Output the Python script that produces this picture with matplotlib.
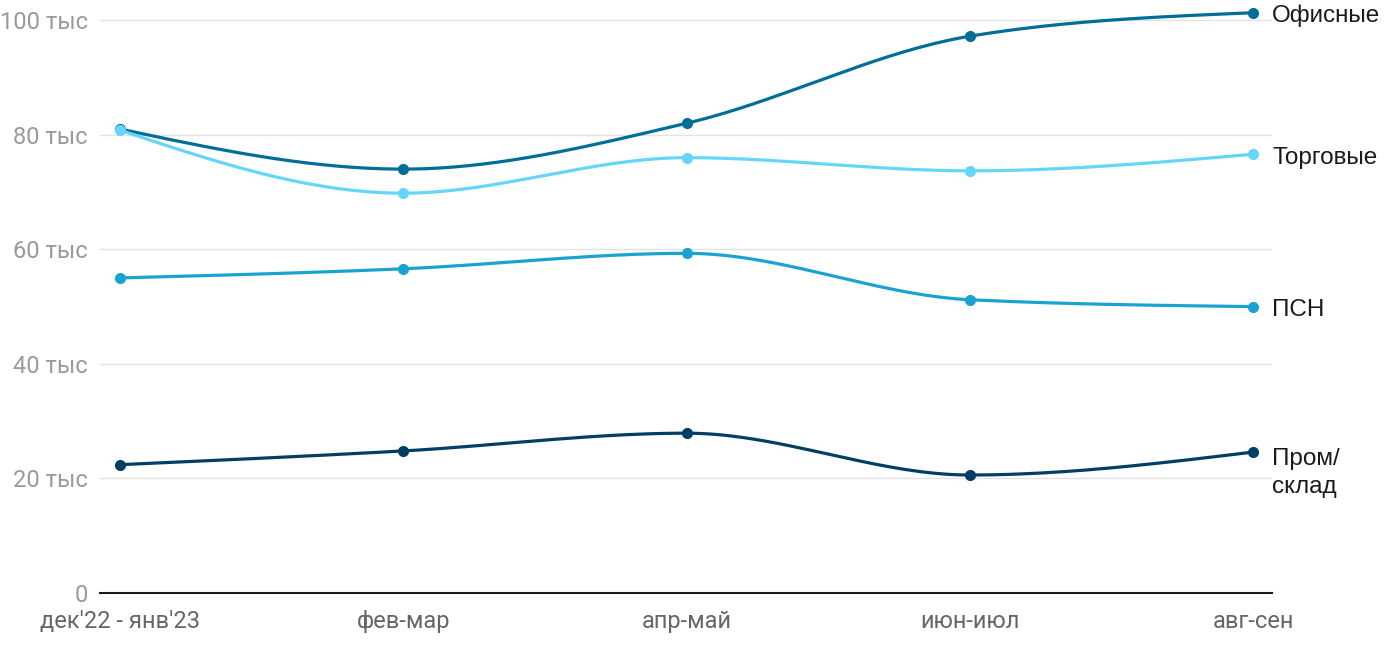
import numpy as np
import matplotlib
matplotlib.use("Agg")
import matplotlib.pyplot as plt

# данные
periods = ["дек'22 - янв'23", "фев-мар", "апр-май", "июн-июл", "авг-сен"]
office = [81.0, 74.0, 82.0, 97.2, 101.3]
retail = [80.8, 69.8, 76.0, 73.7, 76.6]
psn = [55.0, 56.6, 59.3, 51.2, 50.0]
industrial = [22.4, 24.8, 27.9, 20.6, 24.6]

series_names = ["Офисные", "Торговые", "ПСН", "Пром/\nсклад"]
series_colors = ["#006e97", "#66d5fb", "#1aa3d2", "#003f63"]
label_dy = [-3, -4, -3, -21]
yticks = [0, 20, 40, 60, 80, 100]
ytick_labels = ["0", "20 тыс", "40 тыс", "60 тыс", "80 тыс", "100 тыс"]


def monotone(x, y, n=40):
    # монотонная кубическая интерполяция (как curveMonotoneX)
    x = np.asarray(x, float)
    y = np.asarray(y, float)
    h = np.diff(x)
    s = np.diff(y) / h
    t = np.zeros(len(x))
    for i in range(1, len(x) - 1):
        p = (s[i - 1] * h[i] + s[i] * h[i - 1]) / (h[i - 1] + h[i])
        t[i] = (np.sign(s[i - 1]) + np.sign(s[i])) * min(abs(s[i - 1]), abs(s[i]), 0.5 * abs(p))
    t[0] = (3 * s[0] - t[1]) / 2
    t[-1] = (3 * s[-1] - t[-2]) / 2
    xs, ys = [], []
    for i in range(len(x) - 1):
        u = np.linspace(0, 1, n)
        x0, x1 = x[i], x[i + 1]
        dx = (x1 - x0) / 3
        p0, p1 = (x0, y[i]), (x0 + dx, y[i] + dx * t[i])
        p2, p3 = (x1 - dx, y[i + 1] - dx * t[i + 1]), (x1, y[i + 1])
        bx = (1 - u) ** 3 * p0[0] + 3 * (1 - u) ** 2 * u * p1[0] + 3 * (1 - u) * u ** 2 * p2[0] + u ** 3 * p3[0]
        by = (1 - u) ** 3 * p0[1] + 3 * (1 - u) ** 2 * u * p1[1] + 3 * (1 - u) * u ** 2 * p2[1] + u ** 3 * p3[1]
        xs.extend(bx)
        ys.extend(by)
    return np.array(xs), np.array(ys)


fig = plt.figure(figsize=(14, 6.5), dpi=100)
ax = fig.add_axes([100 / 1400, 57 / 650, 1172 / 1400, 590 / 650])

xi = np.arange(len(periods))
data = [office, retail, psn, industrial]
for vals, name, col, dy in zip(data, series_names, series_colors, label_dy):
    sx, sy = monotone(xi, vals)
    ax.plot(sx, sy, color=col, lw=2.3, solid_capstyle="round", zorder=3)
    ax.plot(xi, vals, "o", color=col, ms=7, zorder=4)
    ax.annotate(name, (xi[-1], vals[-1]), xytext=(19, dy), textcoords="offset pixels",
                ha="left", va="center", fontsize=17.5, color="#1a1a1a",
                family="Liberation Sans", linespacing=1.33, annotation_clip=False)

ax.set_xlim(-20 / 283.25, 4 + 19 / 283.25)
ax.set_ylim(0, 103)
ax.set_yticks(yticks)
ax.set_yticklabels(ytick_labels, family="Roboto", fontsize=17, color="#9a9a9a")
ax.set_xticks(xi)
ax.set_xticklabels(periods, family="Roboto", fontsize=17, color="#666666")
ax.tick_params(axis="both", length=0)
ax.tick_params(axis="y", pad=9)
ax.tick_params(axis="x", pad=12)
ax.grid(axis="y", color="#e2e2e2", lw=1)
ax.set_axisbelow(True)
for sp in ["top", "right", "left"]:
    ax.spines[sp].set_visible(False)
ax.spines["bottom"].set_color("#1a1a1a")
ax.spines["bottom"].set_linewidth(1.5)
ax.spines["bottom"].set_zorder(5)

fig.savefig("out.png", dpi=100)
